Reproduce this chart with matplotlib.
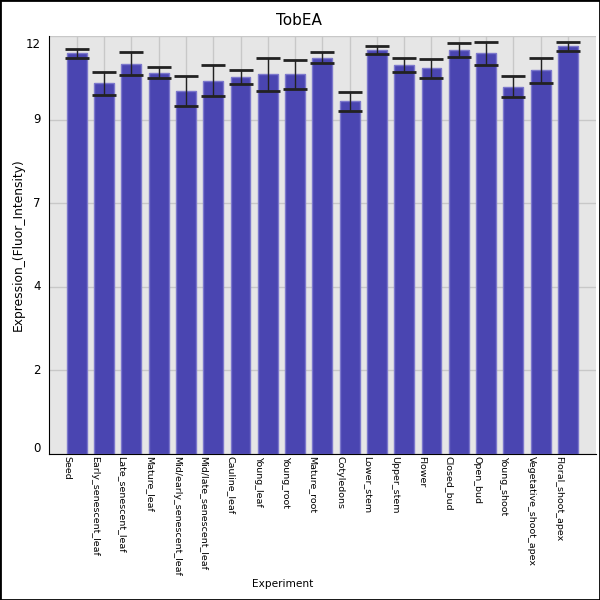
import numpy as np
import matplotlib
matplotlib.use("AGG")
import matplotlib.pyplot as plt
import matplotlib.transforms as mtransforms

experiments = ["Seed", "Early_senescent_leaf", "Late_senescent_leaf", "Mature_leaf",
               "Mid/early_senescent_leaf", "Mid/late_senescent_leaf", "Cauline_leaf",
               "Young_leaf", "Young_root", "Mature_root", "Cotyledons", "Lower_stem",
               "Upper_stem", "Flower", "Closed_bud", "Open_bud", "Young_shoot",
               "Vegetative_shoot_apex", "Floral_shoot_apex"]
expression = [11.50, 10.64, 11.21, 10.95, 10.43, 10.72, 10.81, 10.90, 10.90, 11.38,
              10.12, 11.59, 11.16, 11.07, 11.59, 11.50, 10.55, 11.01, 11.70]
errors = [0.13, 0.33, 0.33, 0.17, 0.43, 0.44, 0.20, 0.47, 0.42, 0.16,
          0.26, 0.12, 0.20, 0.27, 0.20, 0.34, 0.29, 0.36, 0.12]
ytick_vals = [0, 2.4, 4.8, 7.2, 9.6, 12]
ytick_labels = ["0", "2", "4", "7", "9", "12"]

fig = plt.figure(figsize=(6, 6), dpi=100)
ax = fig.add_axes([49 / 600, 1 - 454 / 600, 547 / 600, 418 / 600])
ax.set_facecolor("#e6e6e6")

x = np.arange(len(experiments))
ax.bar(x, expression, width=0.73, color="#4a45b1", edgecolor="#7c78cc", linewidth=1, zorder=2)
ax.errorbar(x, expression, yerr=errors, fmt="none", ecolor="#222222", elinewidth=1,
            capsize=8.5, capthick=2, zorder=3)

ax.set_xlim(-1.02, 19.03)
ax.set_ylim(0, 12)
ax.set_yticks(ytick_vals)
ax.set_xticks(x)
ax.set_yticklabels([])
ax.set_xticklabels([])

# tick labels drawn by hand so they can be nudged like the original
def px(dx, dy):
    return mtransforms.ScaledTranslation(dx / 100, dy / 100, fig.dpi_scale_trans)

for xi, name in zip(x, experiments):
    ax.text(xi, 0, name, rotation=270, fontsize=6.8, ha="center", va="top",
            transform=ax.get_xaxis_transform() + px(-9.5, -2))
for i, (v, lab) in enumerate(zip(ytick_vals, ytick_labels)):
    dy = 6 if i == 0 else (-8 if i == len(ytick_vals) - 1 else 0)
    ax.text(0, v, lab, fontsize=8.5, ha="right", va="center",
            transform=ax.get_yaxis_transform() + px(-8, dy))

ax.grid(True, color="#c8c8c8", linewidth=1, zorder=0)
ax.set_axisbelow(True)
ax.tick_params(length=0)
for s in ["top", "right"]:
    ax.spines[s].set_visible(False)
ax.spines["left"].set_color("black")
ax.spines["bottom"].set_color("black")

fig.text(298.7 / 600, 1 - 20.5 / 600, "TobEA", ha="center", va="center", fontsize=11)
fig.text(283 / 600, 1 - 584 / 600, "Experiment", ha="center", va="center", fontsize=7.6)
fig.text(18 / 600, 1 - 244.5 / 600, "Expression_(Fluor_Intensity)", ha="center", va="center",
         rotation=90, fontsize=8.8)

fig.patches.append(plt.Rectangle((0, 0), 1, 1, transform=fig.transFigure, fill=False,
                                 edgecolor="black", linewidth=2))
fig.savefig("out.png", dpi=100)
